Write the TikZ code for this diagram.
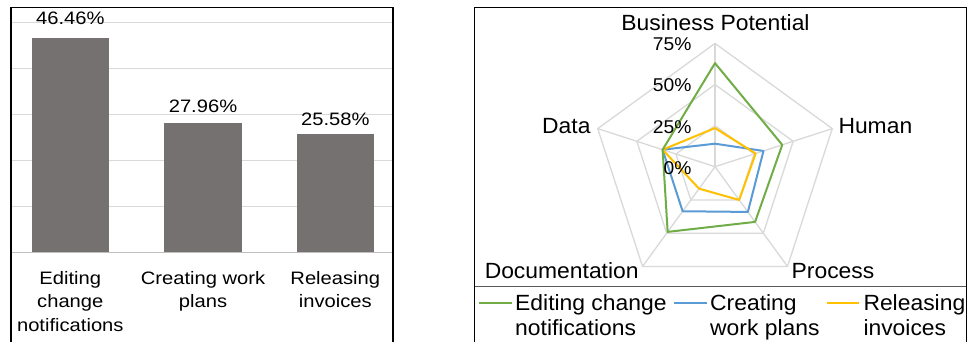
\documentclass[tikz,border=0pt]{standalone}
\usepackage{fontspec}
\setmainfont{Liberation Sans}
\newfontfamily\barfont{Liberation Sans}[FakeStretch=1.12]
\newfontfamily\radfont{Liberation Sans}[FakeStretch=1.04]
\definecolor{barcol}{HTML}{767171}
\definecolor{gridcol}{HTML}{D9D9D9}
\definecolor{axiscol}{HTML}{BFBFBF}
\definecolor{sgreen}{HTML}{70AD47}
\definecolor{sblue}{HTML}{5B9BD5}
\definecolor{syellow}{HTML}{FFC000}
\begin{document}
\begin{tikzpicture}[x=1pt,y=-1pt,
  frameline/.style={black,line width=1.4pt},
  gridline/.style={gridcol,line width=1.1pt},
  radgrid/.style={gridcol,line width=1.3pt},
  axisline/.style={axiscol,line width=1.1pt},
  barbox/.style={fill=barcol,draw=none,inner sep=0pt,anchor=south,minimum width=77.3pt},
  bartxt/.style={inner sep=0pt,font=\barfont\fontsize{18}{23.5}\selectfont,text=black},
  radtxt/.style={inner sep=0pt,font=\radfont\fontsize{22}{25}\selectfont,text=black},
  ticktxt/.style={inner sep=0pt,font=\radfont\fontsize{18.5}{22}\selectfont,text=black},
  series/.style={line width=2pt,line join=round},
  legline/.style={line width=2pt}]
\useasboundingbox (0,0) rectangle (967,341);
\fill[white] (0,0) rectangle (967,341);

% ---------- bar chart ----------
\foreach \yy in {22.3,68.3,114.3,160.3,206.3}
  \draw[gridline] (11,\yy) -- (393,\yy);
\draw[axisline] (11,252.3) -- (393,252.3);
\node[barbox,minimum height=214pt] (b1) at (70.3,252.3) {};
\node[barbox,minimum height=128.8pt] (b2) at (203,252.3) {};
\node[barbox,minimum height=117.8pt] (b3) at (335.3,252.3) {};
\node[bartxt,anchor=base] (v1) at (70.3,24) {46.46\%};
\node[bartxt,anchor=base] (v2) at (203,112.3) {27.96\%};
\node[bartxt,anchor=base] (v3) at (335.3,125) {25.58\%};
\node[bartxt,anchor=north,align=center] (c1) at (70.3,270.9) {Editing\\change\\notifications};
\node[bartxt,anchor=north,align=center] (c2) at (203,270.9) {Creating work\\plans};
\node[bartxt,anchor=north,align=center] (c3) at (335.3,270.9) {Releasing\\invoices};
\draw[frameline] (11,345) -- (11,7.3) -- (393,7.3) -- (393,345);

% ---------- radar chart ----------
\begin{scope}[shift={(715,166.7)}]
  \foreach \r in {41.1,82.2,123.3}
    \draw[radgrid] (-90:\r) -- (-18:\r) -- (54:\r) -- (126:\r) -- (198:\r) -- cycle;
  \foreach \a in {-90,-18,54,126,198}
    \draw[radgrid] (0,0) -- (\a:123.3);
  \draw[series,sblue] (-90:{14*1.644}) -- (-18:{31*1.644}) -- (54:{34*1.644}) -- (126:{33.5*1.644}) -- (198:{33.5*1.644}) -- cycle;
  \draw[series,syellow] (-90:{23.5*1.644}) -- (-18:{26*1.644}) -- (54:{25*1.644}) -- (126:{16.5*1.644}) -- (198:{33.5*1.644}) -- cycle;
  \draw[series,sgreen] (-90:{63*1.644}) -- (-18:{43*1.644}) -- (54:{41.5*1.644}) -- (126:{49*1.644}) -- (198:{33.5*1.644}) -- cycle;
\end{scope}
\node[radtxt,anchor=base] (bp) at (715.5,30.7) {Business Potential};
\node[ticktxt,anchor=base east] (t75) at (691.7,50) {75\%};
\node[ticktxt,anchor=base east] (t50) at (691.7,91) {50\%};
\node[ticktxt,anchor=base east] (t25) at (691.7,133.3) {25\%};
\node[ticktxt,anchor=base east] (t0) at (691.7,174) {0\%};
\node[radtxt,anchor=base east] (data) at (590.7,133.3) {Data};
\node[radtxt,anchor=base west] (human) at (838.3,133.3) {Human};
\node[radtxt,anchor=base] (proc) at (833,278.3) {Process};
\node[radtxt,anchor=base] (doc) at (561.7,278.3) {Documentation};

% legend
\draw[legline,sgreen] (479.3,303.3) -- (511.7,303.3);
\draw[legline,sblue] (674,303.3) -- (706.7,303.3);
\draw[legline,syellow] (827.3,303.3) -- (859.3,303.3);
\node[radtxt,anchor=north west,align=left] (l1) at (515,294) {Editing change\\notifications};
\node[radtxt,anchor=north west,align=left] (l2) at (710,294) {Creating\\work plans};
\node[radtxt,anchor=north west,align=left] (l3) at (863.3,294) {Releasing\\invoices};
\draw[gray!70!black,line width=1pt] (474.3,286.7) -- (966.3,286.7);
\draw[frameline] (474.3,345) -- (474.3,7.3) -- (966.3,7.3) -- (966.3,345);
\end{tikzpicture}
\end{document}
